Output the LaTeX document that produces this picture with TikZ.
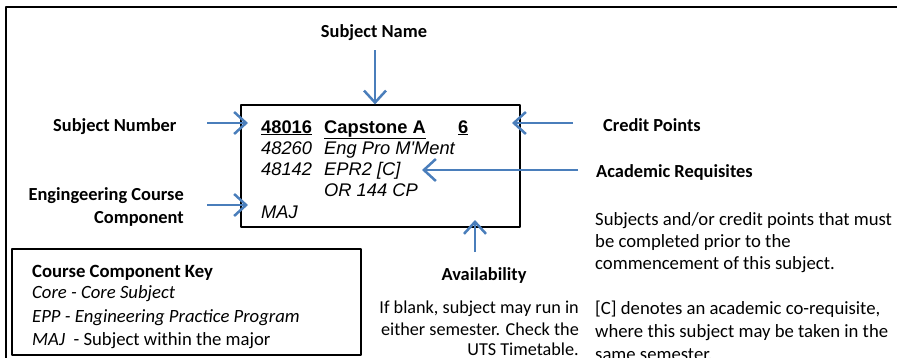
\documentclass[tikz,border=0pt]{standalone}
\usepackage{fontspec}
\setmainfont{Carlito}
\newfontfamily\arialf{Liberation Sans}
\usetikzlibrary{arrows.meta}
\definecolor{arrowblue}{RGB}{74,126,187}
\tikzset{
	lab/.style={font=\bfseries\fontsize{18.4}{21}\selectfont, inner sep=0pt},
	note/.style={font=\fontsize{18.7}{22}\selectfont, inner sep=0pt},
	entry/.style={font=\arialf\fontsize{18.3}{21}\selectfont, inner sep=0pt, anchor=base west},
	pointer/.style={arrowblue, line width=2.5pt, line cap=butt, -{Straight Barb[length=12pt,width=22pt]}}
}
\begin{document}
\begin{tikzpicture}[x=1pt, y=-1pt, line join=round, line cap=round, >=stealth]
	\useasboundingbox (0,0) rectangle (897,357);
	\draw[line width=2pt] (6,360)--(6,6.5)--(900,6.5);
	\node[draw, line width=1.2pt, minimum width=279pt, minimum height=122pt, inner sep=0pt] (subj) at (380.5,166) {};
	\node[draw, line width=1.2pt, minimum width=349pt, minimum height=106pt, inner sep=0pt] (key) at (186.5,302) {};
	% subject entry
	\path
	(261,133) node[entry] (num) {\bfseries\underline{48016}}
	(324,133) node[entry] (title) {\bfseries\underline{Capstone A}}
	(458,133) node[entry] (cp) {\bfseries\underline{6}}
	(261,154) node[entry] (preA) {\itshape 48260}
	(324,154) node[entry] (preAname) {\itshape Eng Pro M\textquotesingle Ment}
	(261,175) node[entry] (preB) {\itshape 48142}
	(324,175) node[entry] (preBname) {\itshape EPR2 [C]}
	(324,196) node[entry] (preC) {\itshape OR 144 CP}
	(261,218) node[entry] (comp) {\itshape MAJ};
	% labels
	\path
	(374,37) node[lab, anchor=base] (nameLab) {Subject Name}
	(53,131) node[lab, anchor=base west] (numLab) {Subject Number}
	(603,131) node[lab, anchor=base west] (cpLab) {Credit Points}
	(596,177) node[lab, anchor=base west] (reqLab) {Academic Requisites}
	(184,200) node[lab, anchor=base east] (compLabA) {Engingeering Course}
	(184,223) node[lab, anchor=base east] (compLabB) {Component}
	(484,280) node[lab, anchor=base] (avLab) {Availability};
	% arrows
	\coordinate (nameTail) at (375,50);
	\coordinate (nameTip) at (nameTail |- subj.north);
	\coordinate (numTail) at (207,123);
	\coordinate (numTip) at (248,123);
	\coordinate (cpTail) at (573,123);
	\coordinate (cpTip) at (512,123);
	\coordinate (reqTail) at (578,170);
	\coordinate (reqTip) at (422,170);
	\coordinate (compTail) at (207,205);
	\coordinate (compTip) at (248,205);
	\coordinate (avTail) at (475,252);
	\coordinate (avTip) at (475,220);
	\foreach \a in {name,num,cp,req,comp,av}
	\draw[pointer] (\a Tail)--(\a Tip);
	% notes
	\foreach \y/\t [count=\i] in {225/{Subjects and/or credit points that must}, 247/be completed prior to the, 269/commencement of this subject., 314/{[C] denotes an academic co-requisite,}, 337/where this subject may be taken in the, 360/same semester.}
	\node[note, anchor=base west] (req\i) at (595,\y) {\t};
	\foreach \y/\t [count=\i] in {313/If blank{,} subject may run in, 335/either semester. Check the, 355/UTS Timetable.}
	\node[note, font=\fontsize{18.2}{22}\selectfont, anchor=base east] (av\i) at (579,\y) {\t};
	% key
	\path
	(32,277) node[note, anchor=base west] (keyHead) {\bfseries Course Component Key}
	(32,298) node[note, anchor=base west] (keyA) {\itshape Core - Core Subject}
	(32,322) node[note, anchor=base west] (keyB) {\itshape EPP - Engineering Practice Program}
	(32,345) node[note, anchor=base west] (keyC) {\textit{MAJ}\ \ - Subject within the major};
\end{tikzpicture}
\end{document}
